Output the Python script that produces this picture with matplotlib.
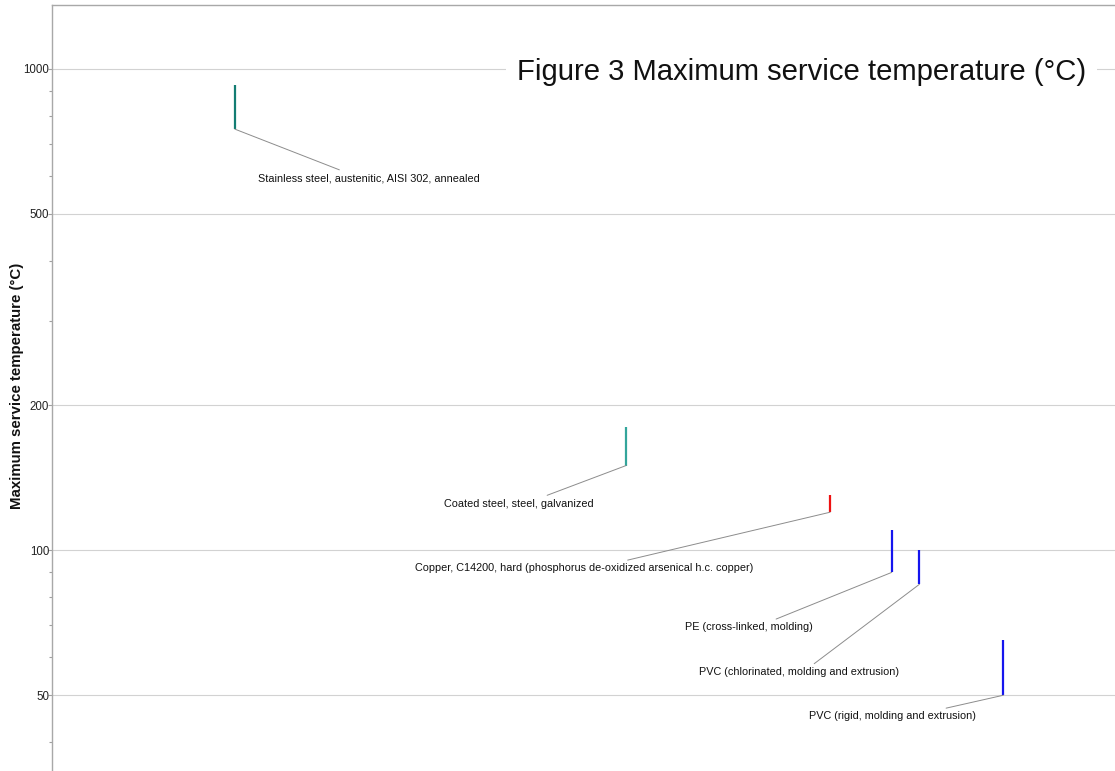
import matplotlib
matplotlib.use("Agg")
import matplotlib.pyplot as plt
from matplotlib.ticker import FixedLocator, NullFormatter

plt.rcParams["font.family"] = ["Liberation Sans", "DejaVu Sans"]

# Materials and their maximum service temperature ranges (°C)
materials = [
    "Stainless steel, austenitic, AISI 302, annealed",
    "Coated steel, steel, galvanized",
    "Copper, C14200, hard (phosphorus de-oxidized arsenical h.c. copper)",
    "PE (cross-linked, molding)",
    "PVC (chlorinated, molding and extrusion)",
    "PVC (rigid, molding and extrusion)",
]
temp_low = [750, 150, 120, 90, 85, 50]
temp_high = [925, 180, 130, 110, 100, 65]
x_pos = [17.2, 54.0, 73.2, 79.0, 81.6, 89.5]
colors = ["#137d73", "#33a59b", "#ee1111", "#1515ee", "#1515ee", "#1515ee"]

major_ticks = [50, 100, 200, 500, 1000]
minor_ticks = [40, 60, 70, 80, 90, 300, 400, 600, 700, 800, 900]

# label placement: offset of label centre from range bottom (pixels), and
# horizontal attachment point of the leader line along the label
label_offsets = [(134, -49), (-107, -38), (-246, -56), (-143, -55), (-120, -88), (-111, -21)]
leader_relx = [0.405, 0.63, 0.59, 0.65, 0.55, 0.74]

W, H = 1115, 771
fig = plt.figure(figsize=(W / 100, H / 100), dpi=100)
ax = fig.add_axes([52 / W, 0, 1 - 52 / W, 1 - 5 / H])

ax.set_yscale("log")
ax.set_ylim(34.8, 1358)
ax.set_xlim(0, 100)

ax.yaxis.set_major_locator(FixedLocator(major_ticks))
ax.yaxis.set_minor_locator(FixedLocator(minor_ticks))
ax.yaxis.set_minor_formatter(NullFormatter())
ax.set_yticklabels([str(t) for t in major_ticks])
ax.tick_params(axis="y", which="major", length=3, width=0.8, color="#a0a0a0",
               labelsize=8.3, labelcolor="#222222", pad=-1)
ax.tick_params(axis="y", which="minor", length=2, width=0.8, color="#a0a0a0")
ax.set_xticks([])

ax.grid(axis="y", which="major", color="#d2d2d2", linewidth=0.8)
ax.set_axisbelow(True)

for side in ("right", "bottom"):
    ax.spines[side].set_visible(False)
for side in ("left", "top"):
    ax.spines[side].set_color("#a8a8a8")
    ax.spines[side].set_linewidth(1.0)

for xp, lo, hi, c in zip(x_pos, temp_low, temp_high, colors):
    ax.vlines(xp, lo, hi, color=c, linewidth=1.6, zorder=3)

for name, xp, lo, (dx, dy), rx in zip(materials, x_pos, temp_low, label_offsets, leader_relx):
    ax.annotate(
        name, xy=(xp, lo), xytext=(dx * 0.72, dy * 0.72), textcoords="offset points",
        ha="center", va="center", fontsize=7.8, color="#111111",
        arrowprops=dict(arrowstyle="-", color="#8c8c8c", linewidth=0.7,
                        shrinkA=1, shrinkB=0, relpos=(rx, 1.0)),
        zorder=4,
    )

fig.text(17 / W, 1 - 386 / H, "Maximum service temperature (°C)", rotation=90,
         ha="center", va="center", fontsize=10.8, fontweight="bold", color="#111111")

ax.annotate("Figure 3 Maximum service temperature (°C)",
            xy=(0.973, 1000), xycoords=ax.get_yaxis_transform(),
            xytext=(0, -2.5), textcoords="offset points",
            ha="right", va="center", fontsize=21.1, color="#111111",
            bbox=dict(facecolor="white", edgecolor="none", pad=8), zorder=5)

fig.savefig("out.png", dpi=100)
